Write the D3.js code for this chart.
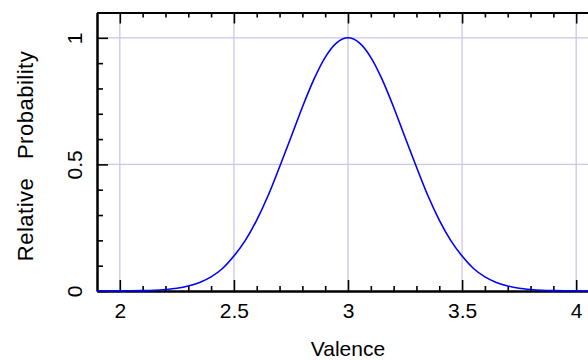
<!DOCTYPE html>
<html>
<head>
<meta charset="utf-8">
<script src="https://cdn.jsdelivr.net/npm/d3@7"></script>
<style>
  body { margin: 0; background: #fff; }
  svg { display: block; overflow: hidden; }
  text { font-family: "Liberation Sans", Arial, sans-serif; fill: #000; }
</style>
</head>
<body>
<div id="chart"></div>
<script>
// valence values (x) and the relative probability (y)
var valence = [1.9, 1.95, 2.0, 2.05, 2.1, 2.15, 2.2, 2.25, 2.3, 2.35, 2.4, 2.45, 2.5, 2.55, 2.6, 2.65, 2.7, 2.75, 2.8, 2.85, 2.9, 2.95,
               3.0, 3.05, 3.1, 3.15, 3.2, 3.25, 3.3, 3.35, 3.4, 3.45, 3.5, 3.55, 3.6, 3.65, 3.7, 3.75, 3.8, 3.85, 3.9, 3.95, 4.0, 4.05, 4.1];
var probability = [0, 0, 0.0003, 0.0007, 0.0015, 0.003, 0.006, 0.011, 0.02, 0.034, 0.056, 0.089, 0.138, 0.2, 0.28, 0.377, 0.49, 0.607, 0.726, 0.835, 0.923, 0.98,
                   1, 0.98, 0.923, 0.835, 0.726, 0.607, 0.49, 0.377, 0.28, 0.2, 0.138, 0.089, 0.056, 0.034, 0.02, 0.011, 0.006, 0.003, 0.0015, 0.0007, 0.0003, 0, 0];

var xMajor = [2, 2.5, 3, 3.5, 4];
var xMinor = [2.1, 2.2, 2.3, 2.4, 2.6, 2.7, 2.8, 2.9, 3.1, 3.2, 3.3, 3.4, 3.6, 3.7, 3.8, 3.9, 4.1];
var yMajor = [0, 0.5, 1];
var yMinor = [0.1, 0.2, 0.3, 0.4, 0.6, 0.7, 0.8, 0.9, 1.1];
var xLabel = "Valence";
var yLabel = "Relative Probability";

var W = 588, H = 360;
var margin = {top: 12.5, left: 97};
var plotW = 502, plotH = 278.5;

var svg = d3.select("#chart").append("svg")
  .attr("width", W)
  .attr("height", H);

var x = d3.scaleLinear().domain([1.9, 4.1]).range([margin.left, margin.left + plotW]);
var y = d3.scaleLinear().domain([0, 1.1]).range([margin.top + plotH, margin.top]);

// grid
var grid = svg.append("g").attr("stroke", "#cdc5ea").attr("stroke-width", 1.3);
grid.selectAll(".gx").data(xMajor).enter().append("line")
  .attr("x1", function(d) { return x(d); })
  .attr("x2", function(d) { return x(d); })
  .attr("y1", y(1.1))
  .attr("y2", y(0));
grid.selectAll(".gy").data([0.5, 1]).enter().append("line")
  .attr("x1", x(1.9))
  .attr("x2", x(4.1))
  .attr("y1", function(d) { return y(d); })
  .attr("y2", function(d) { return y(d); });

function styleAxis(g, domainW) {
  g.selectAll("line").attr("stroke", "#000").attr("stroke-width", 1.6);
  g.select(".domain").attr("stroke", "#000").attr("stroke-width", domainW);
}

// bottom
var bottomAxis = svg.append("g").attr("transform", "translate(0," + y(0) + ")");
bottomAxis.append("g").call(d3.axisBottom(x).tickValues(xMinor).tickSize(-5).tickSizeOuter(0).tickFormat(""))
  .call(styleAxis, 2);
bottomAxis.append("g").call(d3.axisBottom(x).tickValues(xMajor).tickSize(-11).tickSizeOuter(0).tickPadding(12).tickFormat(d3.format("")))
  .call(styleAxis, 2)
  .selectAll("text").attr("font-size", 21);

// top
var topAxis = svg.append("g").attr("transform", "translate(0," + y(1.1) + ")");
topAxis.append("g").call(d3.axisTop(x).tickValues(xMinor).tickSize(-5).tickSizeOuter(0).tickFormat(""))
  .call(styleAxis, 2);
topAxis.append("g").call(d3.axisTop(x).tickValues(xMajor).tickSize(-11).tickSizeOuter(0).tickFormat(""))
  .call(styleAxis, 2);

// left
var leftAxis = svg.append("g").attr("transform", "translate(" + x(1.9) + ",0)");
leftAxis.append("g").call(d3.axisLeft(y).tickValues(yMinor).tickSize(-6).tickSizeOuter(0).tickFormat(""))
  .call(styleAxis, 2);
leftAxis.append("g").call(d3.axisLeft(y).tickValues(yMajor).tickSize(-11).tickSizeOuter(0).tickFormat(d3.format("")))
  .call(styleAxis, 2)
  .selectAll("text")
  .attr("font-size", 21)
  .attr("x", 0).attr("dy", null)
  .attr("text-anchor", "middle")
  .attr("transform", "translate(-15,0) rotate(-90)");

// curve
var line = d3.line()
  .x(function(d, i) { return x(valence[i]); })
  .y(function(d) { return y(d); })
  .curve(d3.curveMonotoneX);

svg.append("path")
  .datum(probability)
  .attr("fill", "none")
  .attr("stroke", "#0000ff")
  .attr("stroke-width", 1.6)
  .attr("d", line);

// labels
svg.append("text")
  .attr("x", x(3))
  .attr("y", 356)
  .attr("text-anchor", "middle")
  .attr("font-size", 21)
  .text(xLabel);

svg.append("text")
  .attr("transform", "translate(33,156) rotate(-90)")
  .attr("text-anchor", "middle")
  .attr("font-size", 22)
  .attr("letter-spacing", 0.5)
  .attr("word-spacing", 12)
  .text(yLabel);
</script>
</body>
</html>
